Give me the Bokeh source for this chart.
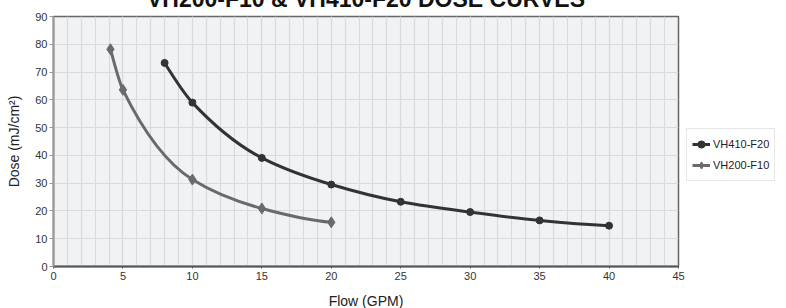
from bokeh.plotting import figure
from bokeh.models import (Title, Legend, LegendItem, SingleIntervalTicker, Range1d,
                          ColumnDataSource)
from bokeh.embed import file_html
from bokeh.resources import INLINE

title_text = "VH200-F10 & VH410-F20 DOSE CURVES"
x_label = "Flow (GPM)"
y_label = "Dose (mJ/cm²)"

s1_name = "VH410-F20"
s1_flow = [8, 10, 15, 20, 25, 30, 35, 40]
s1_dose = [73.3, 59.0, 39.1, 29.5, 23.3, 19.6, 16.6, 14.7]

s2_name = "VH200-F10"
s2_flow = [4.1, 5, 10, 15, 20]
s2_dose = [78.2, 63.6, 31.3, 20.9, 15.9]

FONT = "Liberation Sans"
C1 = "#333333"
C2 = "#6a6a6a"


def smooth_source(xs, ys):
    """Monotone cubic (PCHIP) smoothing through the points, as bezier segments."""
    n = len(xs)
    h = [xs[i + 1] - xs[i] for i in range(n - 1)]
    d = [(ys[i + 1] - ys[i]) / h[i] for i in range(n - 1)]
    m = [0.0] * n
    for i in range(1, n - 1):
        if d[i - 1] * d[i] <= 0:
            m[i] = 0.0
        else:
            w1 = 2 * h[i] + h[i - 1]
            w2 = h[i] + 2 * h[i - 1]
            m[i] = (w1 + w2) / (w1 / d[i - 1] + w2 / d[i])

    def end(h0, h1, d0, d1):
        t = ((2 * h0 + h1) * d0 - h0 * d1) / (h0 + h1)
        if t * d0 <= 0:
            return 0.0
        if d0 * d1 <= 0 and abs(t) > 3 * abs(d0):
            return 3 * d0
        return t

    m[0] = end(h[0], h[1], d[0], d[1])
    m[-1] = end(h[-1], h[-2], d[-1], d[-2])
    src = dict(x0=[], y0=[], x1=[], y1=[], cx0=[], cy0=[], cx1=[], cy1=[])
    for i in range(n - 1):
        src["x0"].append(xs[i]); src["y0"].append(ys[i])
        src["x1"].append(xs[i + 1]); src["y1"].append(ys[i + 1])
        src["cx0"].append(xs[i] + h[i] / 3); src["cy0"].append(ys[i] + m[i] * h[i] / 3)
        src["cx1"].append(xs[i + 1] - h[i] / 3); src["cy1"].append(ys[i + 1] - m[i + 1] * h[i] / 3)
    return ColumnDataSource(src)


p = figure(frame_width=625, frame_height=250, output_backend="svg", toolbar_location=None,
           x_range=Range1d(0, 45), y_range=Range1d(0, 90),
           min_border_left=53, min_border_top=28, min_border_right=10,
           min_border_bottom=42, margin=(-22, 0, 0, 0))
p.background_fill_color = "#f1f2f4"
p.border_fill_color = "white"
p.outline_line_color = "#666666"
p.outline_line_width = 1.5

p.xaxis.ticker = SingleIntervalTicker(interval=5, num_minor_ticks=5)
p.yaxis.ticker = SingleIntervalTicker(interval=10)
p.xgrid.ticker = SingleIntervalTicker(interval=5, num_minor_ticks=5)
p.ygrid.ticker = SingleIntervalTicker(interval=10)
p.xgrid.grid_line_color = "#d9dadc"
p.xgrid.minor_grid_line_color = "#d9dadc"
p.ygrid.grid_line_color = "#d9dadc"
p.xgrid.grid_line_width = 1.2
p.xgrid.minor_grid_line_width = 1.2
p.ygrid.grid_line_width = 1.2

for ax in (p.xaxis, p.yaxis):
    ax.major_label_text_font = FONT
    ax.major_label_text_font_size = "11px"
    ax.major_label_text_color = "#333333"
    ax.axis_label_text_font = FONT
    ax.axis_label_text_font_size = "14px"
    ax.axis_label_text_font_style = "normal"
    ax.axis_label_text_color = "#222222"
    ax.minor_tick_line_color = None

p.xaxis.axis_label = x_label
p.yaxis.axis_label = y_label
p.xaxis.axis_line_color = "#555555"
p.xaxis.axis_line_width = 2
p.xaxis.major_tick_line_color = "#555555"
p.xaxis.major_tick_out = 2
p.xaxis.major_tick_in = 0
p.xaxis.major_label_standoff = 1
p.xaxis.axis_label_standoff = 10
p.yaxis.axis_line_color = "#999999"
p.yaxis.axis_line_width = 2
p.yaxis.major_tick_line_color = "#999999"
p.yaxis.major_tick_out = 4
p.yaxis.major_tick_in = 0
p.yaxis.major_label_standoff = 2
p.yaxis.axis_label_standoff = 10

src1 = smooth_source(s1_flow, s1_dose)
src2 = smooth_source(s2_flow, s2_dose)
p.bezier(x0="x0", y0="y0", x1="x1", y1="y1", cx0="cx0", cy0="cy0", cx1="cx1", cy1="cy1",
         source=src2, line_color=C2, line_width=3)
p.bezier(x0="x0", y0="y0", x1="x1", y1="y1", cx0="cx0", cy0="cy0", cx1="cx1", cy1="cy1",
         source=src1, line_color=C1, line_width=3)
m2 = p.scatter(s2_flow, s2_dose, marker="diamond", size=11, color=C2)
m1 = p.scatter(s1_flow, s1_dose, marker="circle", size=7, color=C1)

l1 = p.line(s1_flow[:1], s1_dose[:1], line_color=C1, line_width=3)
l2 = p.line(s2_flow[:1], s2_dose[:1], line_color=C2, line_width=3)

legend = Legend(items=[LegendItem(label=s1_name, renderers=[l1, m1]),
                       LegendItem(label=s2_name, renderers=[l2, m2])],
                location=(8, 85), padding=5, spacing=1, glyph_width=18,
                glyph_height=20, label_height=20, label_standoff=3,
                label_text_font=FONT, label_text_font_size="11px",
                label_text_color="#222222", border_line_color="#d0d0d0",
                border_line_width=1, background_fill_color="white",
                margin=0)
p.add_layout(legend, "right")

p.add_layout(Title(text=title_text, align="center", offset=4, standoff=10,
                   text_font=FONT, text_font_size="23px", text_font_style="bold",
                   text_color="#111111"), "above")

open("out.html", "w").write(file_html(p, INLINE))
